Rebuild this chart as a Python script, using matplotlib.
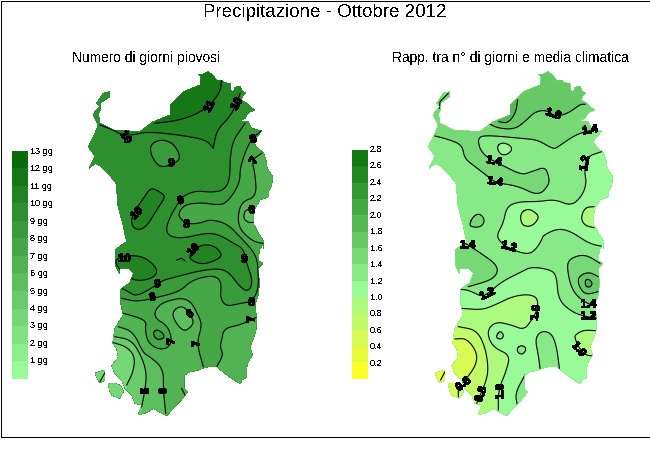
import matplotlib
matplotlib.use("Agg")
import matplotlib.pyplot as plt
import matplotlib.patheffects as pe
from matplotlib.path import Path
from matplotlib.patches import PathPatch, Rectangle

plt.rcParams['font.family'] = ['Liberation Sans', 'DejaVu Sans']
plt.rcParams['text.antialiased'] = False


def crop(pts, x0, y0):
    return [(x0 + x / 3, y0 + y / 3) for x, y in pts]

def top(pts):
    return crop(pts, 0, 60)

def bot(pts):
    return crop(pts, 0, 240)

def rtop(pts):
    return crop(pts, 325, 60)

def rbot(pts):
    return crop(pts, 325, 240)


# rounds the corners of a contour when it gets drawn, the read points stay the same
def curve(pts):
    closed = pts[0] == pts[-1]
    for _ in range(3):
        new = []
        for a, b in zip(pts[:-1], pts[1:]):
            new.append((0.75 * a[0] + 0.25 * b[0], 0.75 * a[1] + 0.25 * b[1]))
            new.append((0.25 * a[0] + 0.75 * b[0], 0.25 * a[1] + 0.75 * b[1]))
        if closed:
            new.append(new[0])
        else:
            new = [pts[0]] + new + [pts[-1]]
        pts = new
    return pts


# legends
days_labels = ['13 gg', '12 gg', '11 gg', '10 gg', '9 gg', '8 gg', '7 gg', '6 gg', '5 gg', '4 gg', '3 gg', '2 gg', '1 gg']
days_colors = ['#0a6b0a', '#167716', '#228322', '#2d8f2d', '#399b39', '#45a745', '#51b351',
               '#5dbf5d', '#69cb69', '#75d775', '#80e380', '#8cef8c', '#98fb98']
ratio_labels = ['2.8', '2.6', '2.4', '2.2', '2.0', '1.8', '1.6', '1.4', '1.2', '1.0', '0.8', '0.6', '0.4', '0.2']
ratio_colors = ['#127812', '#228822', '#339933', '#44a844', '#55b855', '#66c966', '#76d976',
                '#87ea87', '#98fb98', '#adfb7e', '#c1fb68', '#d6fb53', '#eafb3e', '#ffff2a']

# coast, left map position
sardinia = top([(595, 42), (610, 42), (625, 35), (640, 48), (650, 62), (665, 60), (672, 68), (690, 70), (692, 90), (700, 97),
                (705, 82), (720, 78), (725, 92), (737, 100), (728, 108), (722, 120), (738, 128), (750, 140), (765, 150),
                (745, 158), (735, 175), (715, 182), (745, 185), (755, 205), (785, 213), (772, 228), (758, 245), (770, 262),
                (790, 278), (798, 300), (800, 320), (808, 335), (818, 350), (815, 375), (806, 395), (806, 410), (780, 420),
                (765, 445), (760, 470), (762, 495), (775, 520), (792, 545), (790, 565)]) + \
    bot([(790, 10), (778, 30), (775, 62), (788, 70), (775, 85), (778, 130), (775, 165), (765, 195), (770, 235), (768, 270),
         (760, 295), (750, 320), (757, 345), (745, 365), (740, 385), (740, 412), (725, 420), (722, 432), (695, 415), (675, 400),
         (650, 380), (625, 380), (608, 385), (590, 392), (570, 395), (553, 405), (552, 445), (563, 455), (545, 478), (520, 505),
         (500, 527), (485, 520), (460, 505), (440, 518), (415, 525), (425, 495), (405, 490), (395, 465), (375, 445), (365, 420),
         (345, 400), (335, 378), (355, 352), (350, 325), (338, 310), (345, 265), (370, 225), (362, 190), (362, 148), (390, 128),
         (400, 100), (385, 85), (360, 85), (358, 100), (347, 78), (345, 30), (375, 8)]) + \
    top([(380, 545), (368, 490), (352, 430), (350, 372), (325, 340), (300, 318), (285, 310), (268, 325), (285, 288), (265, 260),
         (280, 232), (295, 195), (280, 165), (285, 155), (300, 140), (290, 130), (310, 100), (328, 95), (330, 110), (315, 120),
         (303, 128), (302, 150), (295, 160), (300, 190), (340, 210), (420, 215), (460, 185), (510, 165), (510, 135), (550, 95),
         (600, 75), (603, 50)])
isle_west = bot([(285, 400), (315, 390), (315, 420), (300, 428), (292, 415)])
isle_south = bot([(325, 430), (345, 430), (362, 437), (370, 455), (358, 475), (335, 465), (328, 450)])

# left map contours
d_eleven = curve(top([(465, 190), (545, 180), (615, 150), (660, 100), (665, 60)]))
d_ten = curve(top([(300, 195), (340, 210), (365, 225), (400, 225), (440, 215), (540, 225), (620, 240), (640, 265)])) + \
    curve(top([(640, 265), (645, 235), (655, 205), (690, 170), (710, 130), (720, 100)]))
d_nine_n = curve(top([(455, 250), (485, 238), (520, 250), (540, 285), (535, 305), (485, 325), (460, 300), (450, 270), (455, 250)]))
d_ten_w = curve(top([(455, 382), (495, 405), (490, 420), (470, 450), (440, 500), (410, 512), (392, 490), (400, 460), (440, 400), (455, 382)]))
d_ten_s = curve(bot([(350, 80), (345, 55), (400, 45), (440, 55), (475, 90), (460, 115), (400, 125), (350, 80)]))
d_ten_c = curve(bot([(570, 40), (600, 15), (640, 15), (665, 40), (660, 55), (610, 75), (570, 60), (570, 40)]))
d_nine = curve(top([(735, 190), (700, 240), (690, 290), (690, 360), (670, 392), (630, 397), (590, 392), (555, 405),
                    (540, 420), (510, 470), (497, 510), (510, 530), (550, 535), (620, 518), (660, 525)]) +
               bot([(700, 10), (730, 25), (740, 70), (755, 110), (755, 140), (740, 155), (715, 135), (690, 100), (660, 85),
                    (600, 92), (530, 110), (490, 120), (470, 135), (410, 170), (385, 155), (365, 145)]))
d_eight = curve(top([(785, 212), (750, 240), (720, 320), (720, 370), (680, 430), (650, 435), (610, 428), (560, 432),
                     (540, 450), (535, 470), (560, 492), (600, 490), (630, 478), (680, 490), (720, 530)]) +
                bot([(770, 45), (775, 100), (775, 150), (755, 185), (720, 190), (680, 200), (660, 175), (665, 125), (640, 105),
                     (575, 120), (540, 155), (460, 175), (410, 185), (365, 175)]))
d_seven_e = curve(top([(785, 280), (755, 300), (765, 340), (770, 410), (725, 425), (713, 470), (720, 510), (760, 545), (790, 550)]))
d_seven_se = curve(bot([(770, 232), (720, 255), (672, 265), (665, 300), (660, 320), (670, 345), (650, 380)]))
d_seven_sw = curve(bot([(370, 220), (440, 240), (435, 270), (445, 310), (480, 330), (510, 320), (515, 290), (500, 255),
                        (465, 235), (465, 210), (490, 185), (565, 170), (600, 235), (605, 260), (590, 310), (610, 380)]))
d_six_s = curve(bot([(355, 260), (400, 275), (430, 340), (450, 350), (490, 385), (490, 450), (497, 520)]))
d_five = curve(bot([(345, 290), (395, 300), (425, 350), (440, 400), (435, 450), (425, 500)]))
d_four = curve(bot([(340, 308), (380, 320), (405, 350), (400, 395), (380, 435)]))
d_six_e = curve(top([(760, 445), (735, 450), (730, 475), (745, 488), (760, 487)]))
d_six_c = curve(bot([(510, 220), (548, 192), (582, 240), (575, 260), (548, 277), (510, 220)]))
d_eight_c = curve(bot([(458, 280), (470, 267), (490, 280), (493, 295), (470, 300), (458, 280)]))
d_bits = [bot([(300, 425), (315, 398)]), bot([(545, 445), (555, 465)]), bot([(530, 60), (545, 55), (555, 62)])]

# left map, labels: text, position, rotation
d_label_text = ['11', '10', '10', '9', '10', '9', '8', '8', '7', '6', '9', '10', '10', '9', '8', '8', '7', '6', '7', '7', '5', '6']
d_label_pos = top([(628, 140), (710, 132), (377, 232), (514, 310), (410, 460), (542, 422), (560, 493), (760, 238), (762, 302), (755, 450)]) + \
    bot([(733, 58), (580, 30), (373, 56), (472, 133), (458, 172), (755, 187), (755, 238), (570, 222), (515, 305), (590, 312), (437, 453), (490, 453)])
d_label_rot = [60, 60, -60, 0, 45, 20, 0, 20, 60, 0, 0, 45, 0, 0, 20, 0, 90, 30, 90, 90, 90, 90]

# right map contours
r_eighteen_n = curve(rtop([(578, 120), (572, 160), (548, 190), (522, 185)]))
r_sixteen = curve(rtop([(490, 190), (520, 205), (570, 208), (605, 180), (630, 155), (665, 150), (690, 170), (730, 160), (765, 133), (780, 133)]))
r_fourteen = curve(rtop([(825, 208), (790, 212), (750, 225), (700, 260), (685, 268), (640, 240), (590, 235), (480, 225), (458, 235),
                         (465, 270), (490, 295), (530, 315), (590, 345), (620, 335), (660, 320), (672, 350), (672, 375), (640, 408),
                         (580, 378), (510, 368), (490, 350), (450, 320), (418, 295), (412, 255), (370, 238), (330, 228)]))
r_ten_n = curve(rtop([(515, 260), (530, 247), (555, 255), (562, 270), (545, 285), (525, 283), (515, 260)]))
r_fourteen_w = curve(rtop([(432, 495), (445, 468), (465, 460), (480, 480), (470, 500), (445, 502), (432, 495)]))
r_twelve_up = curve(rtop([(830, 275), (785, 290), (778, 335), (785, 370), (770, 410), (738, 438), (690, 418), (640, 425), (580, 425),
                          (545, 440), (535, 490), (515, 525)]) +
                    rbot([(525, 5), (550, 25), (610, 45), (635, 25), (650, 0)]) +
                    rtop([(655, 525), (700, 505), (740, 515), (790, 550), (835, 560)]))
r_twelve_low = curve(rbot([(405, 148), (430, 150), (470, 170), (490, 160), (530, 125), (590, 95), (620, 80), (680, 90), (695, 110),
                           (700, 180), (740, 215), (775, 228), (815, 235)]))
r_ten = curve(rbot([(410, 205), (470, 210), (510, 195), (560, 170), (610, 162), (640, 175), (635, 215), (620, 240), (597, 270), (560, 255),
                    (515, 245), (490, 265), (490, 295), (510, 325), (555, 345), (545, 390), (520, 450), (520, 510)]))
r_eight = curve(rbot([(400, 260), (455, 270), (480, 320), (490, 380), (485, 420), (455, 490)]))
r_six = curve(rbot([(390, 297), (425, 295), (455, 335), (455, 370), (430, 410), (400, 440), (400, 470)]))
r_isle = rbot([(360, 395), (347, 420)])
r_west14 = curve(rbot([(410, 5), (430, 15), (475, 45), (510, 70), (520, 95), (500, 120), (430, 140)]))
r_east14 = curve(rbot([(825, 70), (780, 42), (735, 55), (725, 80), (740, 150), (775, 185), (815, 200)]))
r_east16 = curve(rbot([(820, 110), (790, 95), (760, 110), (760, 135), (780, 165), (820, 155)]))
r_east18 = curve(rbot([(780, 120), (792, 117), (803, 130), (795, 142), (782, 140), (780, 120)]))
r_low_a = curve(rtop([(585, 460), (610, 445), (635, 460), (642, 475), (620, 500), (590, 497), (585, 460)]))
r_low_b = curve(rtop([(807, 440), (780, 442), (767, 475), (780, 497), (807, 503)]))
r_low_c = curve(rbot([(812, 272), (775, 270), (750, 285), (750, 295), (760, 320), (780, 345), (805, 348)]))
r_high_s = curve(rbot([(645, 385), (640, 345), (630, 295), (650, 272), (680, 280), (695, 320), (703, 385)]))
r_high_se = curve(rbot([(600, 405), (570, 460), (578, 500)]))
r_spot_a = curve(rbot([(515, 285), (525, 272), (537, 285), (530, 298), (515, 295), (515, 285)]))
r_spot_b = curve(rbot([(575, 325), (590, 315), (605, 325), (595, 343), (580, 340), (575, 325)]))
r_bits = [rtop([(370, 100), (345, 125), (343, 145)])]

r_label_text = ['1.6', '1.4', '1.2', '1.4', '1.4', '1.2', '1.4', '1.2', '1.4', '1.2', '1.0', '1.0', '1.0', '0.8', '0.6']
r_label_pos = rtop([(685, 162), (795, 210), (780, 310), (507, 303), (510, 365), (552, 560)]) + \
    rbot([(428, 15), (487, 162), (790, 193), (790, 228), (632, 218), (762, 328), (525, 455), (468, 463), (415, 432)])
r_label_rot = [-20, 10, 80, -10, -10, -15, 0, 25, 0, 0, 80, -50, 90, 70, 40]

fig = plt.figure(figsize=(6.5, 4.5), dpi=100)
ax = fig.add_axes([0, 0, 1, 1])
ax.set_xlim(0, 650)
ax.set_ylim(450, 0)
ax.axis('off')


def draw_map(dx, fills, lines, label_text, label_pos, label_rot):
    verts = []
    codes = []
    for part in [sardinia, isle_west, isle_south]:
        verts += [(x + dx, y) for x, y in part] + [(part[0][0] + dx, part[0][1])]
        codes += [Path.MOVETO] + [Path.LINETO] * (len(part) - 1) + [Path.CLOSEPOLY]
    coast = PathPatch(Path(verts, codes), facecolor=fills[0][1], edgecolor='none', antialiased=False, zorder=1)
    ax.add_patch(coast)
    for pts, color in fills[1:]:
        xs = [p[0] for p in pts]
        ys = [p[1] for p in pts]
        for poly in ax.fill(xs, ys, color=color, linewidth=0, antialiased=False, zorder=2):
            poly.set_clip_path(coast)
    for pts in lines:
        line, = ax.plot([p[0] for p in pts], [p[1] for p in pts], color='black', lw=0.8, zorder=3)
        line.set_clip_path(coast)
    for text, (x, y), rot in zip(label_text, label_pos, label_rot):
        ax.text(x, y, text, fontsize=8, fontweight='bold', rotation=rot, ha='center', va='center',
                rotation_mode='anchor', zorder=4,
                path_effects=[pe.withStroke(linewidth=0.25, foreground='black')])


# fills are painted in order, each one closed outside of the coast
left_fills = [
    (None, days_colors[3]),
    (d_ten[1:] + top([(950, 0), (400, 0)]), days_colors[2]),
    (d_eleven + top([(665, 0), (465, 0)]), days_colors[1]),
    (d_nine_n, days_colors[4]),
    (d_ten_w, days_colors[2]),
    (d_ten_s, days_colors[2]),
    (d_ten_c, days_colors[2]),
    (d_nine + bot([(200, 145), (200, 700), (950, 700)]) + top([(950, 170)]), days_colors[4]),
    (d_eight + bot([(200, 175), (200, 700), (950, 700)]) + top([(950, 212)]), days_colors[5]),
    (d_eight_c, days_colors[4]),
    (d_seven_e + top([(950, 550), (950, 280)]), days_colors[6]),
    (d_seven_se + bot([(650, 600), (950, 600), (950, 232)]), days_colors[6]),
    (d_seven_sw + bot([(610, 600), (200, 600), (200, 220)]), days_colors[6]),
    (d_six_c, days_colors[7]),
    (d_six_e + top([(900, 487), (900, 445)]), days_colors[7]),
    (d_six_s + bot([(497, 600), (200, 600), (200, 260)]), days_colors[7]),
    (d_five + bot([(425, 600), (200, 600), (200, 290)]), days_colors[8]),
    (d_four + bot([(360, 600), (200, 600), (200, 308)]), days_colors[9]),
]
left_lines = [d_eleven, d_ten, d_nine_n, d_ten_w, d_ten_s, d_ten_c, d_nine, d_eight, d_seven_e, d_seven_se,
              d_seven_sw, d_six_s, d_five, d_four, d_six_e, d_six_c, d_eight_c] + d_bits

right_fills = [
    (None, ratio_colors[7]),
    (r_twelve_up + rtop([(1000, 560), (1000, 275)]), ratio_colors[8]),
    (r_twelve_low + rbot([(1000, 235), (1000, 700), (200, 700), (200, 148)]), ratio_colors[8]),
    (r_ten + rbot([(520, 700), (200, 700), (200, 205)]), ratio_colors[9]),
    (r_eight + rbot([(455, 700), (200, 700), (200, 260)]), ratio_colors[10]),
    (r_six + rbot([(400, 700), (200, 700), (200, 297)]), ratio_colors[11]),
    (r_isle + rbot([(347, 500), (200, 500), (200, 395)]), ratio_colors[12]),
    (r_fourteen + rtop([(200, 228), (200, 0), (1000, 0), (1000, 208)]), ratio_colors[6]),
    (r_sixteen + rtop([(1000, 133), (1000, 0), (480, 0)]), ratio_colors[5]),
    (r_eighteen_n + rtop([(480, 150), (540, 80)]), ratio_colors[4]),
    (r_ten_n, ratio_colors[8]),
    (r_fourteen_w, ratio_colors[6]),
    (r_west14 + rbot([(300, 140), (300, 5)]), ratio_colors[6]),
    (r_east14 + rbot([(1000, 200), (1000, 70)]), ratio_colors[6]),
    (r_east16 + rbot([(1000, 155), (1000, 110)]), ratio_colors[5]),
    (r_east18, ratio_colors[4]),
    (r_low_a, ratio_colors[9]),
    (r_low_b + rtop([(1000, 503), (1000, 440)]), ratio_colors[9]),
    (r_low_c + rbot([(1000, 348), (1000, 272)]), ratio_colors[9]),
    (r_high_s + rbot([(703, 600), (645, 600)]), ratio_colors[7]),
    (r_high_se + rbot([(700, 500), (700, 405)]), ratio_colors[7]),
    (r_spot_a, ratio_colors[7]),
    (r_spot_b, ratio_colors[7]),
]
right_lines = [r_eighteen_n, r_sixteen, r_fourteen, r_ten_n, r_fourteen_w, r_twelve_up, r_twelve_low, r_ten, r_eight, r_six,
               r_isle, r_west14, r_east14, r_east16, r_east18, r_low_a, r_low_b, r_low_c, r_high_s, r_high_se,
               r_spot_a, r_spot_b] + r_bits

draw_map(0, left_fills, left_lines, d_label_text, d_label_pos, d_label_rot)

# the contours of the right map are already in picture position, so the coast is moved only
draw_map(340, right_fills, right_lines, r_label_text, r_label_pos, r_label_rot)

# legends
step = 228 / len(days_colors)
for i, (lab, col) in enumerate(zip(days_labels, days_colors)):
    ax.add_patch(Rectangle((12, 150.7 + i * step), 16, step, facecolor=col, edgecolor='none', antialiased=False))
    ax.text(30, 151.5 + i * 17.45, lab, fontsize=6.5, ha='left', va='center')
step = 228.7 / len(ratio_colors)
for i, (lab, col) in enumerate(zip(ratio_labels, ratio_colors)):
    ax.add_patch(Rectangle((352, 150 + i * step), 16, step, facecolor=col, edgecolor='none', antialiased=False))
    ax.text(370, 149.5 + i * 16.45, lab, fontsize=6.5, ha='left', va='center')

ax.text(325, 12.5, 'Precipitazione - Ottobre 2012', fontsize=13.5, ha='center', va='center')
ax.text(146, 58, 'Numero di giorni piovosi', fontsize=9.9, ha='center', va='center')
ax.text(510.5, 58, 'Rapp. tra n° di giorni e media climatica', fontsize=9.9, ha='center', va='center')

ax.add_patch(Rectangle((0.5, 0.5), 649, 436, facecolor='none', edgecolor='black', lw=0.4, antialiased=False, zorder=5))

fig.savefig('out.png', dpi=100)
